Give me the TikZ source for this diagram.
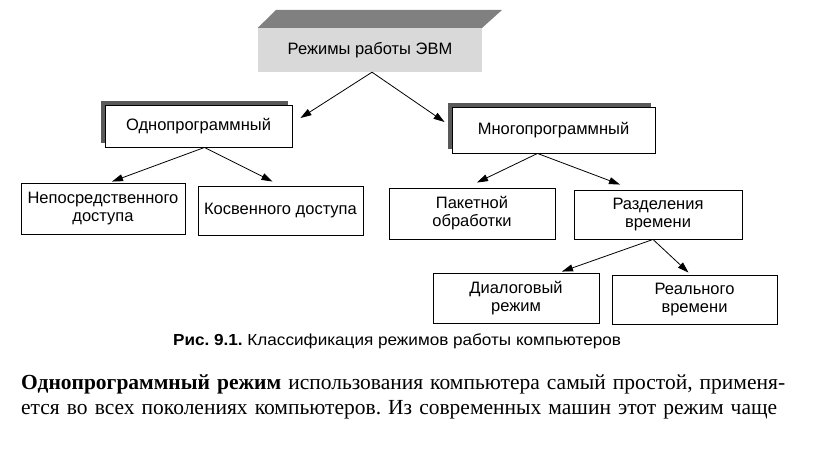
\documentclass[tikz,border=0pt]{standalone}
\usepackage{fontspec}
\setmainfont{Liberation Serif}
\newfontfamily\boxfont{Liberation Sans}
\usetikzlibrary{arrows.meta,shadows}
\frenchspacing

\tikzset{
  mode/.style={draw, fill=white, line width=0.9pt, inner sep=0pt, align=center,
    font=\boxfont\fontsize{16.5}{18}\selectfont},
  shadowed/.style={copy shadow={shadow xshift=-4pt, shadow yshift=4pt,
    fill=black!65, draw=none}},
  topbox/.style={fill=black!15, inner sep=0pt,
    font=\boxfont\fontsize{16.5}{18}\selectfont},
  link/.style={-{Triangle[length=11pt,width=7pt]}, line width=0.8pt},
  textline/.style={anchor=base west, inner sep=0pt, font=\fontsize{21.5}{25}\selectfont},
}

\begin{document}
\begin{tikzpicture}[x=1pt,y=-1pt]
    \useasboundingbox (0,0) rectangle (821,471);
    % top of the tree
    \node[topbox, minimum width=224, minimum height=44] (rezh) at (370,50) {Режимы работы ЭВМ};
    \fill[black!50] (rezh.north west) -- (rezh.north east) -- ++(20,-18) -- ++(-226,0) -- cycle;
    \node[mode, shadowed, minimum width=187, minimum height=42] (odno) at (198.5,126) {Однопрограммный};
    \node[mode, shadowed, minimum width=203, minimum height=46] (mnogo) at (553.5,130) {Многопрограммный};
    % second level
    \node[mode, minimum width=164, minimum height=51] (nepo) at (103,208.5) {Непосредственного\\доступа};
    \node[mode, minimum width=165, minimum height=49] (kosv) at (280.5,210.5) {Косвенного доступа};
    \node[mode, minimum width=166, minimum height=51] (paket) at (472,213.5) {Пакетной\\обработки};
    \node[mode, minimum width=168, minimum height=49] (razd) at (658,214.5) {Разделения\\времени};
    \node[mode, minimum width=166, minimum height=50] (dial) at (516,298) {Диалоговый\\режим};
    \node[mode, minimum width=165, minimum height=49] (real) at (694.5,299.5) {Реального\\времени};
    % arrows
    \draw[link] ([xshift=2pt]rezh.south) -- ([xshift=8pt,yshift=8pt]odno.east);
    \draw[link] ([xshift=2pt]rezh.south) -- ([xshift=-7pt,yshift=8pt]mnogo.west);
    \draw[link] ([xshift=6pt]odno.south) -- ([xshift=9pt,yshift=1pt]nepo.north);
    \draw[link] ([xshift=6pt]odno.south) -- ([xshift=-8pt,yshift=4pt]kosv.north);
    \draw[link] ([xshift=-16pt]mnogo.south) -- ([xshift=5pt,yshift=5pt]paket.north);
    \draw[link] ([xshift=-16pt]mnogo.south) -- ([xshift=-38pt,yshift=5pt]razd.north);
    \draw[link] ([xshift=-5pt]razd.south) -- ([xshift=46pt,yshift=1pt]dial.north);
    \draw[link] ([xshift=-5pt]razd.south) -- ([xshift=-6pt,yshift=2pt]real.north);
    % caption and text
    \node[anchor=base west, inner sep=0pt, font=\boxfont\fontsize{16}{18}\selectfont] (capt) at (173,345)
      {\scalebox{1.07}[1]{\textbf{Рис. 9.1.} Классификация режимов работы компьютеров}};
    \node[textline] (line1) at (21,389)
      {\hbox to 764pt{\textbf{Однопрограммный режим} использования компьютера самый простой, применя-}};
    \node[textline] (line2) at (21,414)
      {\hbox to 756pt{ется во всех поколениях компьютеров. Из современных машин этот режим чаще}};
\end{tikzpicture}
\end{document}
